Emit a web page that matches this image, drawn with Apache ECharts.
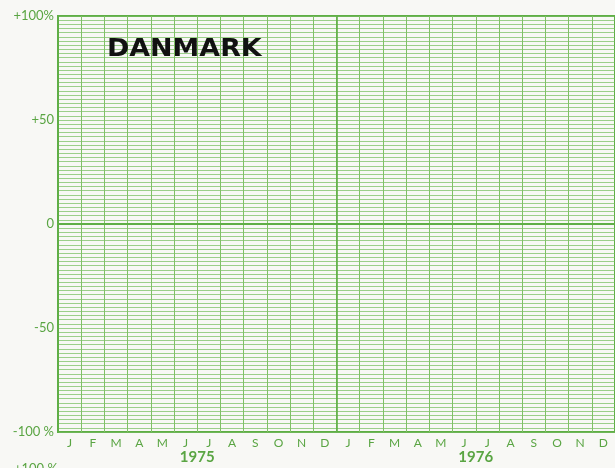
<!DOCTYPE html>
<html>
<head>
<meta charset="utf-8">
<script src="https://cdn.jsdelivr.net/npm/echarts@6/dist/echarts.min.js"></script>
<style>
  html, body { margin: 0; padding: 0; background: #f8f8f5; }
  #chart { width: 615px; height: 468px; }
</style>
</head>
<body>
<div id="chart"></div>
<script>
// Monthly change chart, Denmark 1975–1976 (blank recording grid)
const months = ['J','F','M','A','M','J','J','A','S','O','N','D',
                'J','F','M','A','M','J','J','A','S','O','N','D'];
const years = ['1975', '1976'];
const yTicks = { '100': '+100%', '50': '+50', '0': '0', '-50': '-50', '-100': '-100 %' };
const values = []; // no readings entered yet

const GREEN = '#5fae46';
const TEXT_GREEN = '#5aa543';

const chart = echarts.init(document.getElementById('chart'), null, { renderer: 'canvas' });

const hiddenAxis = { axisLine: { show: false }, axisTick: { show: false }, axisLabel: { show: false } };

chart.setOption({
  backgroundColor: '#f8f8f5',
  animation: false,
  grid: {
    left: 58, top: 16, width: 558, bottom: 36,
    show: true, borderColor: GREEN, borderWidth: 2, backgroundColor: 'transparent'
  },
  xAxis: [
    {
      type: 'category', data: months, boundaryGap: true, position: 'bottom',
      axisLine: { show: true, lineStyle: { color: GREEN, width: 2 } },
      axisTick: { show: false },
      axisLabel: { color: TEXT_GREEN, fontFamily: 'Lato', fontSize: 12, margin: 5, interval: 0 },
      splitLine: { show: true, interval: 0, lineStyle: { color: '#80c066', width: 1 } }
    },
    {
      type: 'category', data: years, boundaryGap: true, position: 'bottom',
      axisLine: { show: false }, axisTick: { show: false },
      axisLabel: { color: TEXT_GREEN, fontFamily: 'Lato', fontWeight: 'bold', fontSize: 15, margin: 18, interval: 0 },
      splitLine: { show: true, interval: 0, lineStyle: { color: GREEN, width: 1.6 } }
    }
  ],
  yAxis: [
    {
      // fine ruling every 2 %
      type: 'value', min: -100, max: 100, interval: 2, position: 'left',
      ...hiddenAxis,
      splitLine: { show: true, lineStyle: { color: '#9ccf8a', width: 1 } }
    },
    {
      type: 'value', min: -100, max: 100, interval: 50, position: 'left',
      axisLine: { show: true, lineStyle: { color: GREEN, width: 2 } },
      axisTick: { show: false },
      axisLabel: {
        color: TEXT_GREEN, fontFamily: 'Lato', fontSize: 13, margin: 4,
        padding: [0, 0, 6, 0],
        formatter: v => yTicks[String(v)]
      },
      splitLine: { show: false }
    },
    {
      type: 'value', min: -100, max: 100, interval: 100, position: 'left',
      ...hiddenAxis,
      splitLine: { show: true, lineStyle: { color: GREEN, width: 1.6 } }
    }
  ],
  series: [
    { type: 'line', xAxisIndex: 0, yAxisIndex: 1, data: values, symbol: 'none' }
  ],
  graphic: [
    {
      type: 'text', left: 107, top: 38, z: 10, scaleX: 1.12,
      style: { text: 'DANMARK', fill: '#111', font: 'bold 24px "DejaVu Sans"' }
    },
    {
      type: 'text', left: 14, top: 462, z: 10,
      style: { text: '+100 %', fill: TEXT_GREEN, font: '13px Lato' }
    }
  ]
});
</script>
</body>
</html>
